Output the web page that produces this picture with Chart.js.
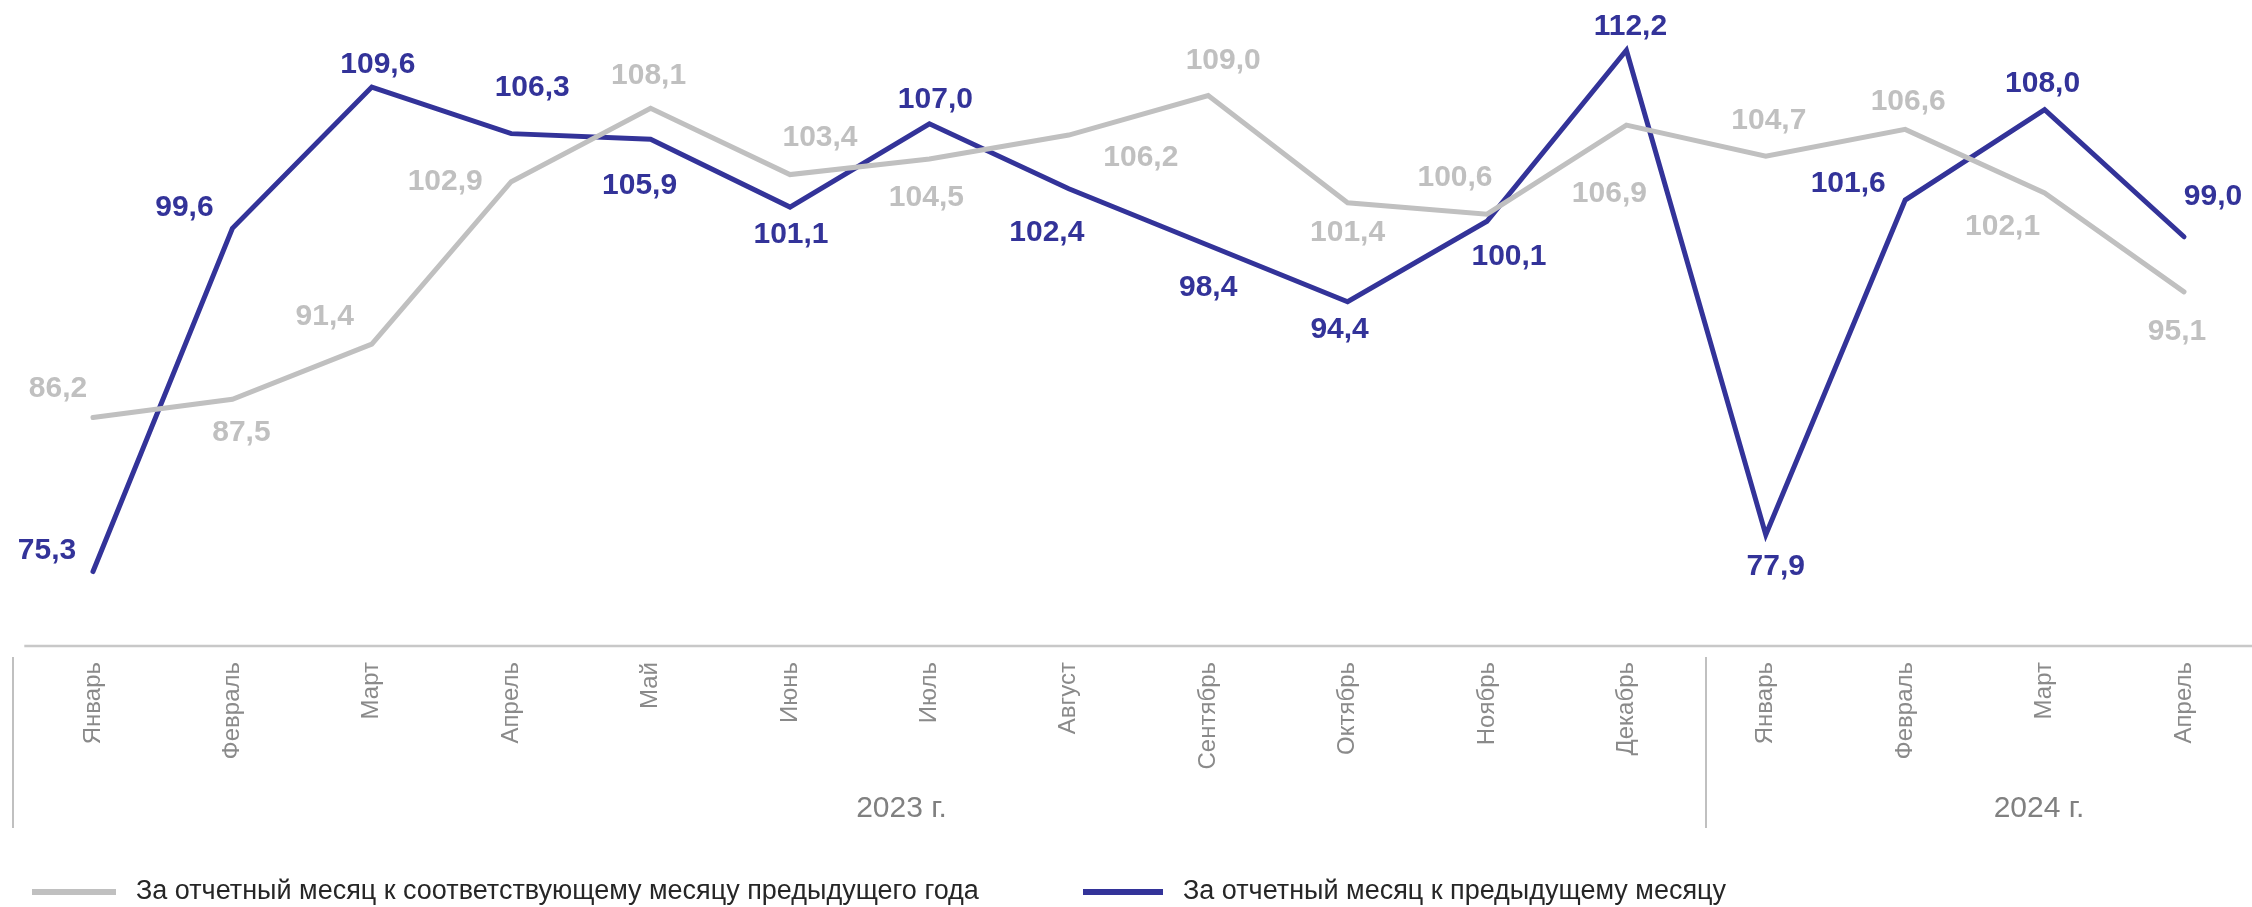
<!DOCTYPE html>
<html>
<head>
<meta charset="utf-8">
<script src="https://cdn.jsdelivr.net/npm/chart.js@4.4.1/dist/chart.umd.min.js"></script>
<style>
  html, body { margin: 0; padding: 0; background: #ffffff; }
  #wrap { width: 2252px; height: 907px; position: relative; }
</style>
</head>
<body>
<div id="wrap"><canvas id="c" width="2252" height="907"></canvas></div>
<script>
// ---- data ----
const months = ['Январь','Февраль','Март','Апрель','Май','Июнь','Июль','Август','Сентябрь','Октябрь','Ноябрь','Декабрь','Январь','Февраль','Март','Апрель'];
const yearLabels = ['2023 г.', '2024 г.'];
const seriesNames = ['За отчетный месяц к соответствующему месяцу предыдущего года', 'За отчетный месяц к предыдущему месяцу'];
const yoyValues = [86.2, 87.5, 91.4, 102.9, 108.1, 103.4, 104.5, 106.2, 109.0, 101.4, 100.6, 106.9, 104.7, 106.6, 102.1, 95.1];
const momValues = [75.3, 99.6, 109.6, 106.3, 105.9, 101.1, 107.0, 102.4, 98.4, 94.4, 100.1, 112.2, 77.9, 101.6, 108.0, 99.0];

// ---- layout (label offsets from their point, in px) ----
const yoyLabelOffsets = [[-35,-29],[9,34],[-47,-27],[-66,0],[-2,-32],[30,-37],[-3,39],[72,23],[15,-35],[0,30],[-32,-36],[-17,69],[3,-36],[3,-28],[-42,34],[-7,40]];
const momLabelOffsets = [[-46,-21],[-48,-21],[6,-22],[21,-46],[-11,46],[1,28],[6,-24],[-22,44],[0,43],[-8,28],[22,36],[4,-24],[10,32],[-57,-16],[-2,-26],[29,-40]];
const yearCenters = [5.8, 13.96];

const GREY = '#c0c0c0';
const BLUE = '#333399';
const FONT = "'Liberation Sans', Arial, sans-serif";

const fmt = v => v.toFixed(1).replace('.', ',');

const decor = {
  id: 'decor',
  afterDraw(chart) {
    const ctx = chart.ctx;
    const xs = chart.scales.x;
    const area = chart.chartArea;
    const step = xs.getPixelForValue(1) - xs.getPixelForValue(0);
    ctx.save();

    // axis line
    ctx.strokeStyle = '#c8c8c8';
    ctx.lineWidth = 2.5;
    ctx.beginPath();
    ctx.moveTo(xs.getPixelForValue(0) - step / 2 + 1, area.bottom);
    ctx.lineTo(chart.width, area.bottom);
    ctx.stroke();

    // year separators
    ctx.lineWidth = 2;
    ctx.strokeStyle = '#c0c0c0';
    [xs.getPixelForValue(0) - 80, xs.getPixelForValue(11) + 80].forEach(x => {
      ctx.beginPath();
      ctx.moveTo(Math.round(x), area.bottom + 11);
      ctx.lineTo(Math.round(x), area.bottom + 182);
      ctx.stroke();
    });

    // year labels
    ctx.fillStyle = '#808080';
    ctx.font = '30px ' + FONT;
    ctx.textAlign = 'center';
    ctx.textBaseline = 'middle';
    yearLabels.forEach((t, i) => {
      ctx.fillText(t, xs.getPixelForValue(yearCenters[i]), area.bottom + 163);
    });

    // data labels
    ctx.font = 'bold 30px ' + FONT;
    const sets = [[0, yoyValues, yoyLabelOffsets, GREY], [1, momValues, momLabelOffsets, BLUE]];
    sets.forEach(([di, vals, offs, col]) => {
      const meta = chart.getDatasetMeta(di);
      ctx.fillStyle = col;
      meta.data.forEach((pt, i) => {
        ctx.fillText(fmt(vals[i]), pt.x + offs[i][0], pt.y + offs[i][1]);
      });
    });

    // legend
    const ly = chart.height - 15;
    ctx.font = '27px ' + FONT;
    ctx.textAlign = 'left';
    ctx.fillStyle = GREY;
    ctx.fillRect(32, ly - 3, 84, 6);
    ctx.fillStyle = '#262626';
    ctx.fillText(seriesNames[0], 136, ly);
    ctx.fillStyle = BLUE;
    ctx.fillRect(1083, ly - 3, 80, 6);
    ctx.fillStyle = '#262626';
    ctx.fillText(seriesNames[1], 1183, ly);

    ctx.restore();
  }
};

new Chart(document.getElementById('c'), {
  type: 'line',
  data: {
    labels: months,
    datasets: [
      { label: seriesNames[0], data: yoyValues, borderColor: GREY, borderWidth: 5, pointRadius: 0, pointHoverRadius: 0, tension: 0, borderCapStyle: 'round', clip: false, fill: false },
      { label: seriesNames[1], data: momValues, borderColor: BLUE, borderWidth: 5, pointRadius: 0, pointHoverRadius: 0, tension: 0, borderCapStyle: 'round', clip: false, fill: false }
    ]
  },
  options: {
    responsive: false,
    animation: false,
    devicePixelRatio: 1,
    layout: { padding: { left: 93, right: 68, top: 0, bottom: 0 } },
    plugins: { legend: { display: false }, tooltip: { enabled: false } },
    scales: {
      y: { display: false, min: 70.03, max: 115.76 },
      x: {
        offset: false,
        grid: { display: false, drawTicks: false },
        border: { display: false },
        ticks: {
          autoSkip: false,
          minRotation: 90,
          maxRotation: 90,
          padding: 16,
          color: '#8a8a8a',
          font: { family: FONT, size: 24 }
        },
        afterFit(scale) { scale.height = 261; }
      }
    }
  },
  plugins: [decor]
});
</script>
</body>
</html>
